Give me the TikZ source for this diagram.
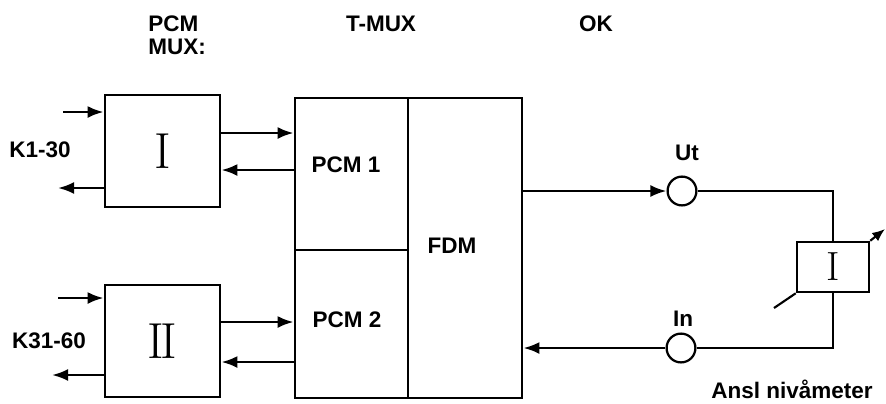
\documentclass[tikz,border=0pt]{standalone}
\usepackage{fontspec}
\setsansfont{Liberation Sans}
\usetikzlibrary{arrows.meta, positioning}

\begin{document}
\begin{tikzpicture}[x=0.025cm, y=-0.025cm,
  txt/.style={font=\sffamily\bfseries\fontsize{16}{16.5}\selectfont, inner sep=0pt},
  mux/.style={draw, line width=2pt, minimum width=2.875cm, minimum height=2.8cm, inner sep=0pt, font=\rmfamily\fontsize{36}{36}\selectfont},
  part/.style={draw, line width=2pt, inner sep=0pt},
  port/.style={draw, circle, line width=1.6pt, minimum size=0.72cm, inner sep=0pt},
  sig/.style={line width=1.8pt, -{Latex[length=0.4cm, width=0.3cm]}},
  wire/.style={line width=1.5pt}
]
  \useasboundingbox (0,0) rectangle (886,403);

  \node[txt, anchor=base west] (pcmcap) at (148,31) {PCM};
  \node[txt, anchor=base west] (muxcap) at (148,54) {MUX:};
  \node[txt, anchor=base] (tmuxcap) at (381,31) {T-MUX};
  \node[txt, anchor=base] (okcap) at (596,31) {OK};

  \node[mux] (muxa) at (162.5,151) {I};
  \node[mux] (muxb) at (162.5,341) {I\kern-0.08em I};
  \node[txt, anchor=base] (kone) at (40,157) {K1-30};
  \node[txt, anchor=base] (ktwo) at (49,348) {K31-60};

  \node[part, minimum width=2.825cm, minimum height=3.8cm] (pcm1) at (351.5,174) {};
  \node[part, minimum width=2.825cm, minimum height=3.7cm] (pcm2) at (351.5,324) {};
  \node[part, minimum width=2.85cm, minimum height=7.5cm] (fdm) at (465,248) {};
  \node[txt, anchor=base] (pcm1txt) at (346,172) {PCM 1};
  \node[txt, anchor=base] (pcm2txt) at (347,327) {PCM 2};
  \node[txt, anchor=base] (fdmtxt) at (452,253) {FDM};

  \node[port] (ut) at (682,191) {};
  \node[port] (in) at (681,348) {};
  \node[txt, anchor=base] (uttxt) at (687,160) {Ut};
  \node[txt, anchor=base] (intxt) at (683,326) {In};
  \node[draw, line width=1.8pt, minimum width=1.8cm, minimum height=1.25cm, inner sep=0pt, font=\rmfamily\fontsize{29}{29}\selectfont] (meter) at (833,267) {I};
  \node[txt, anchor=base] (meterlbl) at (792,398) {Ansl nivåmeter};

  \coordinate (ina) at (63,112);
  \coordinate (outa) at (58,188);
  \coordinate (inb) at (58,298);
  \coordinate (outb) at (52,375);
  \coordinate (tip) at (885,229);
  \coordinate (probe) at (774,308);

  \draw[sig] (ina) -- (muxa.west |- ina);
  \draw[sig] (muxa.west |- outa) -- (outa);
  \draw[sig] (inb) -- (muxb.west |- inb);
  \draw[sig] (muxb.west |- outb) -- (outb);

  \draw[sig] (muxa.east |- 0,133) -- (pcm1.west |- 0,133);
  \draw[sig] (pcm1.west |- 0,170) -- (muxa.east |- 0,170);
  \draw[sig] (muxb.east |- 0,322) -- (pcm2.west |- 0,322);
  \draw[sig] (pcm2.west |- 0,362) -- (muxb.east |- 0,362);

  \draw[sig] (fdm.east |- ut) -- (ut.west);
  \draw[wire] (ut.east) -- (ut -| meter.north) -- (meter.north);
  \draw[wire] (in.east) -- (in -| meter.south) -- (meter.south);
  \draw[sig] (in.west) -- (fdm.east |- in);
  \draw[sig, line width=1.5pt, -{Latex[length=0.32cm, width=0.26cm]}] (meter.north east) -- (tip);
  \draw[wire] (meter.south west) -- (probe);
\end{tikzpicture}
\end{document}
